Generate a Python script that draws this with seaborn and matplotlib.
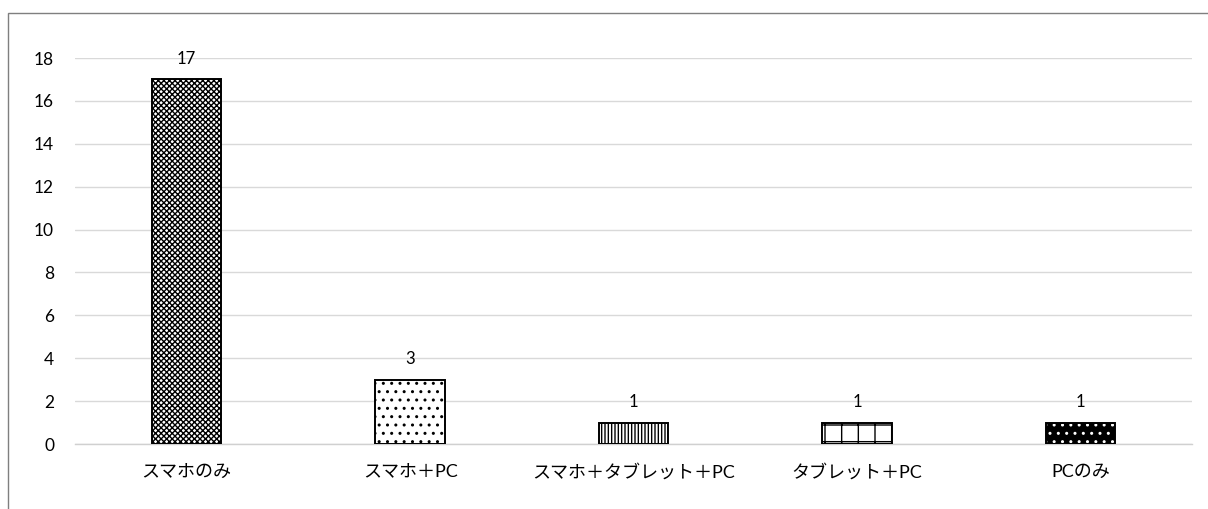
import matplotlib
matplotlib.use("Agg")
import matplotlib.pyplot as plt
import seaborn as sns
import pandas as pd
from matplotlib.patches import Rectangle

categories = ["スマホのみ", "スマホ＋PC", "スマホ＋タブレット＋PC", "タブレット＋PC", "PCのみ"]
counts = [17, 3, 1, 1, 1]
y_ticks = [0, 2, 4, 6, 8, 10, 12, 14, 16, 18]

sns.set_theme(style="white")
plt.rcParams["font.family"] = ["Lato", "Noto Sans CJK JP", "DejaVu Sans"]
plt.rcParams["hatch.linewidth"] = 1.0

fig = plt.figure(figsize=(12.08, 5.09), dpi=100)
ax = fig.add_axes([0.062, 0.1277, 0.925, 0.7583])

df = pd.DataFrame({"category": categories, "count": counts})
sns.barplot(data=df, x="category", y="count", ax=ax, width=0.31,
            color="white", edgecolor="black", linewidth=1.2)

# fill patterns per bar
styles = [
    dict(face="#ffffff", hatch="xxxxxx", hc="black"),
    dict(face="#ffffff", hatch="..", hc="black"),
    dict(face="#ffffff", hatch="|||||", hc="black"),
    dict(face="#ffffff", hatch="+", hc="black"),
    dict(face="black", hatch="..", hc="white"),
]
patches = list(ax.patches)
for p, st in zip(patches, styles):
    p.set_facecolor(st["face"])
    p.set_hatch(st["hatch"])
    p.set_edgecolor(st["hc"])
    p.set_linewidth(0)
    outline = Rectangle(p.get_xy(), p.get_width(), p.get_height(),
                        facecolor="none", edgecolor="black", linewidth=1.4, zorder=3)
    ax.add_patch(outline)

for i, v in enumerate(counts):
    ax.annotate(str(v), (i, v), xytext=(0, 9), textcoords="offset points",
                ha="center", va="bottom", fontsize=12, color="#000000")

ax.set_ylim(0, 18)
ax.set_xlim(-0.5, len(categories) - 0.5)
ax.set_yticks(y_ticks)
ax.set_yticklabels([str(t) for t in y_ticks], fontsize=12.5, color="#000000")
ax.tick_params(axis="x", labelsize=13, colors="#000000", length=0, pad=14)
ax.tick_params(axis="y", length=0, pad=15)
ax.set_xlabel("")
ax.set_ylabel("")
ax.yaxis.grid(True, color="#d9d9d9", linewidth=1.0)
ax.set_axisbelow(True)
for s in ["top", "right", "left"]:
    ax.spines[s].set_visible(False)
ax.spines["bottom"].set_color("#d0d0d0")
ax.spines["bottom"].set_linewidth(1.0)

# chart frame
fig.add_artist(Rectangle((8 / 1208, -0.1), 1.2, 1 - 13 / 509 + 0.1,
                         transform=fig.transFigure, facecolor="none",
                         edgecolor="#7f7f7f", linewidth=1.0, clip_on=False))

fig.savefig("out.png", dpi=100)
